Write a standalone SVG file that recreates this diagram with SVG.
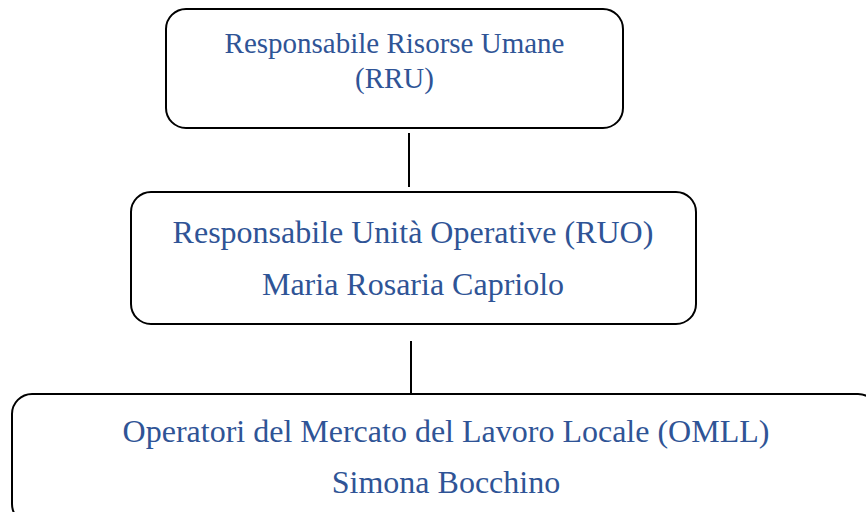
<svg xmlns="http://www.w3.org/2000/svg" width="866" height="512" viewBox="0 0 866 512">
<style>
.box{fill:#fff;stroke:#000;stroke-width:2}
.t{font-family:'Liberation Serif','Times New Roman',serif;fill:#2F5496;text-anchor:middle}
.c{stroke:#000;stroke-width:2;fill:none}
</style>
<rect width="866" height="512" fill="#fff"/>
<g id="connectors">
<line class="c" x1="409" y1="133" x2="409" y2="187"/>
<line class="c" x1="411" y1="341" x2="411" y2="394"/>
</g>
<g id="rru">
<rect class="box" x="166" y="9" width="457" height="119" rx="20"/>
<text class="t" x="394.5" y="53" font-size="29">Responsabile Risorse Umane</text>
<text class="t" x="394.5" y="88" font-size="29">(RRU)</text>
</g>
<g id="ruo">
<rect class="box" x="131" y="192" width="565" height="132" rx="20"/>
<text class="t" x="413" y="243" font-size="32">Responsabile Unità Operative (RUO)</text>
<text class="t" x="413" y="295" font-size="32">Maria Rosaria Capriolo</text>
</g>
<g id="omll">
<rect class="box" x="12" y="394" width="866" height="130" rx="20"/>
<text class="t" x="446" y="442" font-size="32">Operatori del Mercato del Lavoro Locale (OMLL)</text>
<text class="t" x="446" y="493" font-size="32">Simona Bocchino</text>
</g>
</svg>
